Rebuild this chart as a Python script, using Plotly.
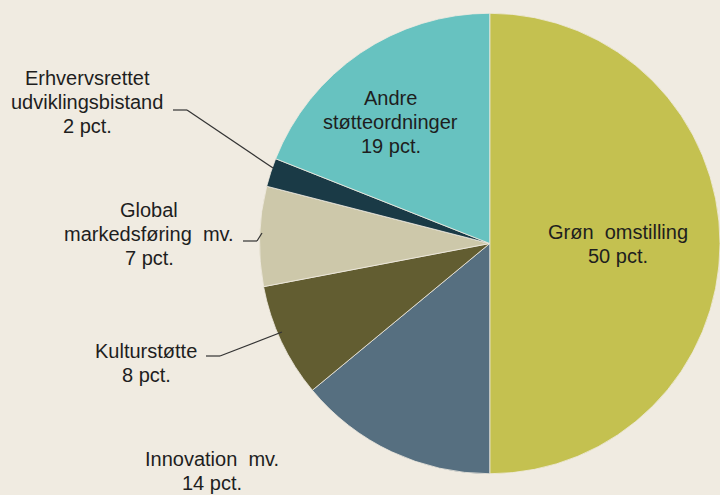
import plotly.graph_objects as go

# ---- data ----
categories = ["Grøn omstilling", "Innovation mv.", "Kulturstøtte",
              "Global markedsføring mv.", "Erhvervsrettet udviklingsbistand",
              "Andre støtteordninger"]
values = [50, 14, 8, 7, 2, 19]
label_lines = [
    ["Grøn\u00a0 omstilling"],
    ["Innovation\u00a0 mv."],
    ["Kulturstøtte"],
    ["Global", "markedsføring\u00a0 mv."],
    ["Erhvervsrettet", "udviklingsbistand"],
    ["Andre", "støtteordninger"],
]
colors = ["#c4c150", "#566f80", "#625d31", "#cdc8aa", "#1a3a46", "#67c2c0"]

W, H = 720, 495
BG = "#f0ebe1"
TXT = "#1e1e1e"

# label block centres (pixels) and connector paths (pixels)
label_pos = [(618, 244), (212, 471), (146, 363), (149, 234), (87, 102), (391, 122)]
connectors = [None, None,
              [(206, 356), (220, 356), (282, 332)],
              [(243, 241), (257, 241), (262, 233)],
              [(173, 110), (187, 110), (273, 168)],
              None]

fig = go.Figure(go.Pie(
    labels=categories, values=values, sort=False, direction="clockwise",
    rotation=0, textinfo="none", hoverinfo="label+value",
    marker=dict(colors=colors, line=dict(color=BG, width=0.8)),
    domain=dict(x=[(492 - 232.5) / W, 1.0], y=[(H - 476) / H, (H - 11) / H]),
    showlegend=False,
))

LS = 24
for lines, v, (cx, cy) in zip(label_lines, values, label_pos):
    allines = lines + [f"{v} pct."]
    n = len(allines)
    for i, t in enumerate(allines):
        py = cy + (i - (n - 1) / 2) * LS
        fig.add_annotation(x=cx / W, y=1 - py / H, xref="paper", yref="paper",
                           text=t, showarrow=False, xanchor="center", yanchor="middle",
                           font=dict(family="Liberation Sans, Arial", size=20, color=TXT))

for path in connectors:
    if not path:
        continue
    for (x0, y0), (x1, y1) in zip(path[:-1], path[1:]):
        fig.add_shape(type="line", xref="paper", yref="paper",
                      x0=x0 / W, y0=1 - y0 / H, x1=x1 / W, y1=1 - y1 / H,
                      line=dict(color="#333333", width=1.2))

fig.update_layout(width=W, height=H, margin=dict(l=0, r=0, t=0, b=0),
                  paper_bgcolor=BG, plot_bgcolor=BG)
fig.write_html("out.html", config={"displayModeBar": False},
               post_script="document.body.style.margin='0';document.body.style.overflow='hidden';document.body.style.background='%s';" % BG)
